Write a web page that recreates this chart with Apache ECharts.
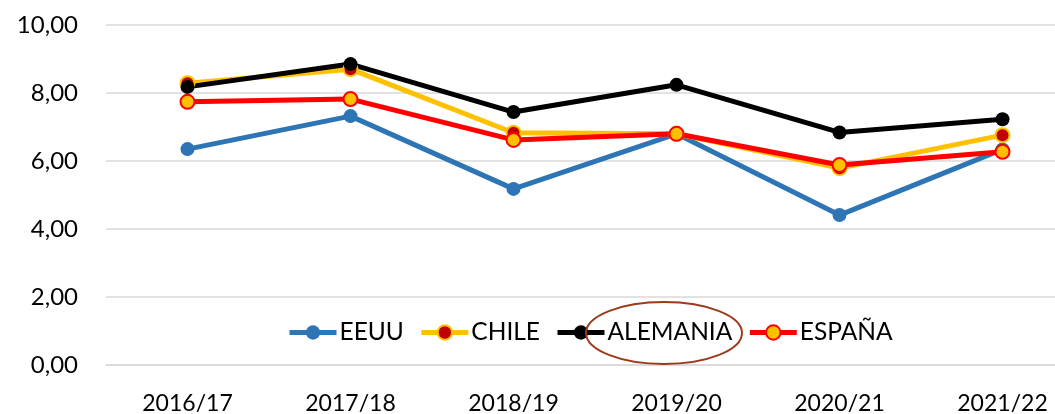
<!DOCTYPE html>
<html>
<head>
<meta charset="utf-8">
<script src="https://cdn.jsdelivr.net/npm/echarts@6/dist/echarts.min.js"></script>
<style>
  html, body { margin: 0; padding: 0; background: #fff; }
  #chart { width: 1055px; height: 414px; }
</style>
</head>
<body>
<div id="chart"></div>
<script>
const years = ['2016/17', '2017/18', '2018/19', '2019/20', '2020/21', '2021/22']
const yTicks = [0, 2, 4, 6, 8, 10]
const eeuu = [6.35, 7.32, 5.18, 6.8, 4.41, 6.34]
const chile = [8.29, 8.7, 6.83, 6.8, 5.79, 6.76]
const alemania = [8.18, 8.85, 7.44, 8.24, 6.84, 7.23]
const espana = [7.74, 7.82, 6.62, 6.8, 5.88, 6.27]

const chart = echarts.init(document.getElementById('chart'))
const font = 'Lato, "Open Sans", sans-serif'

function line(name, data, lineColor, fill, border) {
  return {
    name: name,
    type: 'line',
    data: data,
    symbol: 'circle',
    symbolSize: 14,
    lineStyle: { color: lineColor, width: 5 },
    itemStyle: { color: fill, borderColor: border, borderWidth: border === fill ? 0 : 2 },
    emphasis: { disabled: true },
    animation: false
  }
}

chart.setOption({
  textStyle: { fontFamily: font },
  grid: { left: 106, top: 25, width: 978, bottom: 49, outerBoundsMode: 'none' },
  legend: {
    left: 282,
    top: 315,
    itemWidth: 47,
    itemHeight: 18,
    itemGap: 15,
    lineStyle: { width: 5 },
    textStyle: { fontSize: 24.5, color: '#000', fontFamily: font, padding: [0, 0, 0, -2] },
    data: ['EEUU', 'CHILE', 'ALEMANIA', 'ESPAÑA']
  },
  xAxis: {
    type: 'category',
    data: years,
    boundaryGap: true,
    axisLine: { lineStyle: { color: '#D9D9D9', width: 1.5 } },
    axisTick: { show: false },
    axisLabel: { fontSize: 23, color: '#000', margin: 27 }
  },
  yAxis: {
    type: 'value',
    min: yTicks[0],
    max: yTicks[yTicks.length - 1],
    interval: 2,
    axisLine: { show: false },
    axisTick: { show: false },
    splitLine: { lineStyle: { color: '#D9D9D9', width: 1.5 } },
    axisLabel: {
      fontSize: 24,
      color: '#000',
      margin: 28,
      formatter: v => v.toFixed(2).replace('.', ',')
    }
  },
  graphic: [{
    type: 'ellipse',
    shape: { cx: 664, cy: 333, rx: 78, ry: 31 },
    style: { fill: 'none', stroke: '#9C3B1B', lineWidth: 2 },
    z: 100
  }],
  series: [
    line('EEUU', eeuu, '#2E75B6', '#2E75B6', '#2E75B6'),
    line('CHILE', chile, '#FFC000', '#C00000', '#FFC000'),
    line('ALEMANIA', alemania, '#000000', '#000000', '#000000'),
    line('ESPAÑA', espana, '#FF0000', '#FFC000', '#FF0000')
  ]
})
</script>
</body>
</html>
